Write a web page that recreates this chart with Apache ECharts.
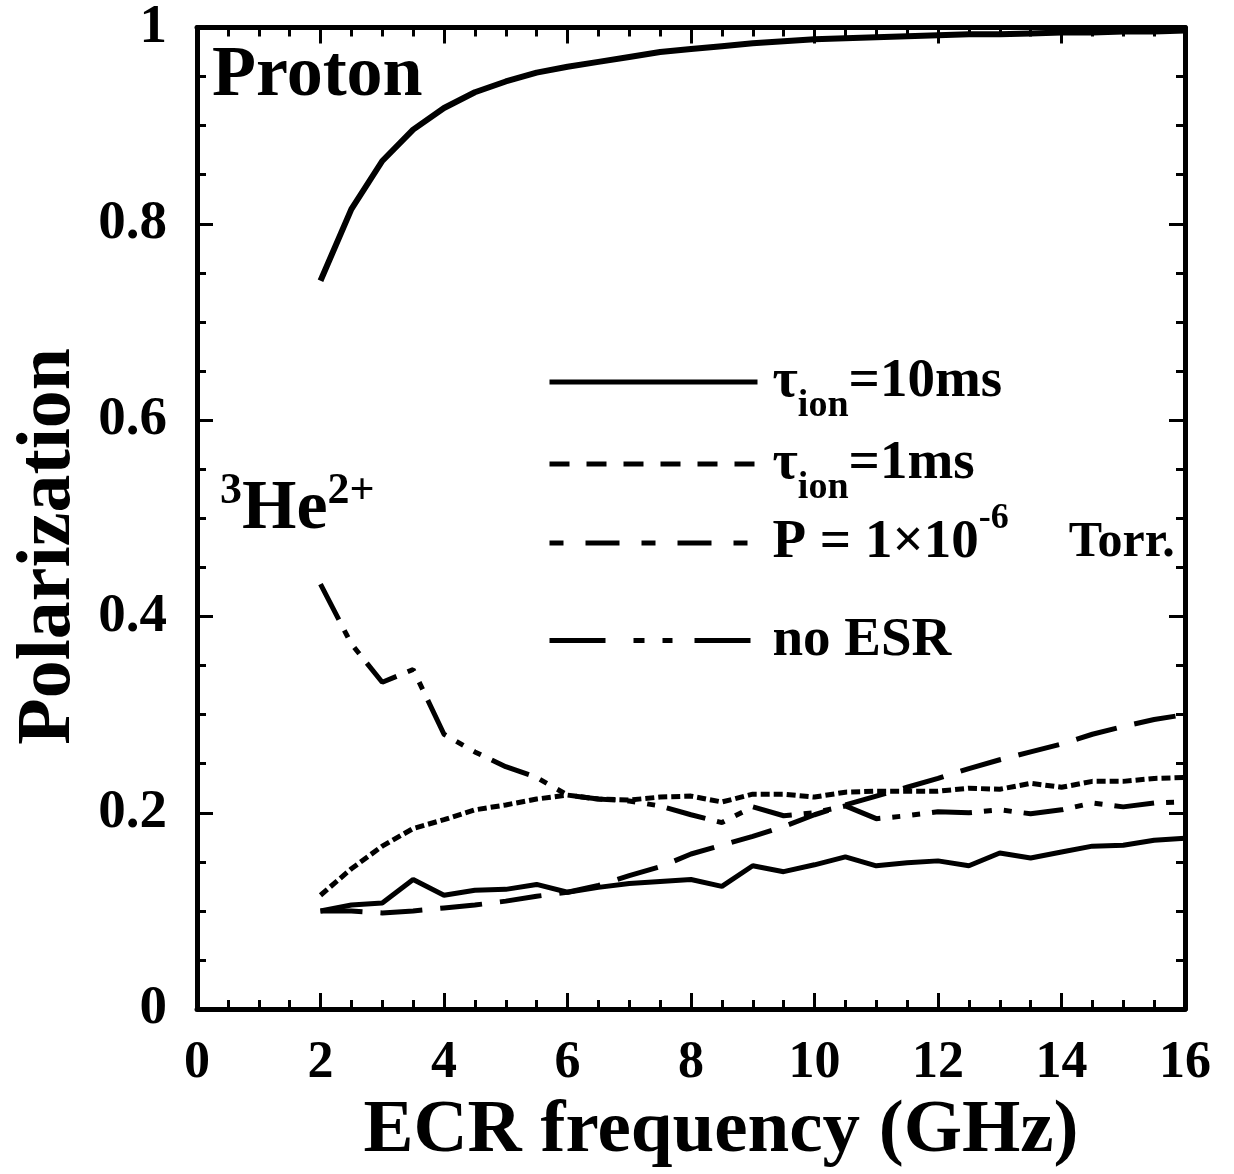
<!DOCTYPE html>
<html>
<head>
<meta charset="utf-8">
<script src="https://cdn.jsdelivr.net/npm/echarts@6/dist/echarts.min.js"></script>
<style>
  html, body { margin: 0; padding: 0; background: #fff; }
  #main { width: 1234px; height: 1174px; }
</style>
</head>
<body>
<div id="main"></div>
<script>
// ECR frequency in GHz, one point every 0.5 GHz
var freqGHz = [2, 2.5, 3, 3.5, 4, 4.5, 5, 5.5, 6, 6.5, 7, 7.5, 8, 8.5, 9, 9.5,
               10, 10.5, 11, 11.5, 12, 12.5, 13, 13.5, 14, 14.5, 15, 15.5, 16];

// proton, tau_ion = 10 ms
var protonPol = [0.742, 0.815, 0.864, 0.896, 0.918, 0.934, 0.945, 0.954, 0.960, 0.965,
                 0.970, 0.975, 0.978, 0.981, 0.984, 0.986, 0.988, 0.989, 0.990, 0.991,
                 0.992, 0.993, 0.993, 0.994, 0.995, 0.995, 0.996, 0.996, 0.997];

// 3He2+ curves
var heTau10 = [0.100, 0.106, 0.108, 0.132, 0.116, 0.121, 0.122, 0.127, 0.119, 0.124,
               0.128, 0.130, 0.132, 0.125, 0.146, 0.140, 0.147, 0.155, 0.146, 0.149,
               0.151, 0.146, 0.159, 0.154, 0.160, 0.166, 0.167, 0.172, 0.174];
var heTau1 = [0.116, 0.143, 0.166, 0.184, 0.193, 0.203, 0.208, 0.214, 0.218, 0.214,
              0.213, 0.216, 0.217, 0.211, 0.219, 0.219, 0.216, 0.221, 0.222, 0.222,
              0.222, 0.225, 0.224, 0.230, 0.226, 0.232, 0.232, 0.235, 0.236];
var heP = [0.100, 0.100, 0.098, 0.100, 0.103, 0.106, 0.110, 0.115, 0.119, 0.126,
           0.136, 0.145, 0.158, 0.167, 0.176, 0.186, 0.198, 0.208, 0.217, 0.226,
           0.235, 0.245, 0.254, 0.262, 0.270, 0.280, 0.288, 0.295, 0.300];
var heNoEsr = [0.433, 0.372, 0.333, 0.346, 0.280, 0.262, 0.247, 0.236, 0.218, 0.214,
               0.212, 0.207, 0.198, 0.190, 0.206, 0.197, 0.200, 0.207, 0.194, 0.197,
               0.201, 0.200, 0.203, 0.199, 0.203, 0.210, 0.206, 0.210, 0.211];

function pairs(ys) {
  var out = [];
  for (var i = 0; i < freqGHz.length; i++) out.push([freqGHz[i], ys[i]]);
  return out;
}

var FONT = '"Liberation Serif", "Times New Roman", serif';
var richText = {
  m: { fontSize: 55, fontWeight: 'bold', fontFamily: FONT, color: '#000', lineHeight: 60 },
  s: { fontSize: 50, fontWeight: 'bold', fontFamily: FONT, color: '#000', lineHeight: 60 },
  sub: { fontSize: 38, fontWeight: 'bold', fontFamily: FONT, color: '#000', lineHeight: 40, padding: [48, 0, 0, 0] },
  sup: { fontSize: 36, fontWeight: 'bold', fontFamily: FONT, color: '#000', lineHeight: 40, padding: [0, 0, 48, 0] },
  gap: { width: 10 },
  wide: { width: 60 }
};

function legendText(name) {
  if (name === 'tau10') return '{gap|}{m|τ}{sub|ion}{m|=10ms}';
  if (name === 'tau1') return '{gap|}{m|τ}{sub|ion}{m|=1ms}';
  if (name === 'pres') return '{gap|}{m|P = 1×10}{sup|-6}{wide|}{s|Torr.}';
  return '{gap|}{m|no ESR}';
}

function makeLegend(name, top, dash) {
  return {
    data: [name],
    left: 547,
    top: top,
    itemWidth: 208,
    itemHeight: 12,
    padding: 0,
    selectedMode: false,
    formatter: legendText,
    itemStyle: { opacity: 0 },
    lineStyle: { width: 5, type: dash, color: '#000' },
    textStyle: { rich: richText }
  };
}

function lineSeries(name, ys, dash, width) {
  return {
    name: name,
    type: 'line',
    data: pairs(ys),
    showSymbol: false,
    symbol: 'none',
    lineStyle: { color: '#000', width: width, type: dash },
    itemStyle: { color: '#000' },
    emphasis: { disabled: true },
    z: 3
  };
}

var chart = echarts.init(document.getElementById('main'));

var tickLabel = { fontFamily: FONT, fontWeight: 'bold', color: '#000' };

var option = {
  backgroundColor: '#fff',
  animation: false,
  grid: { left: 197, right: 49, top: 22, bottom: 162, containLabel: false },
  legend: [
    makeLegend('tau10', 339, 'solid'),
    makeLegend('tau1', 421, [20, 17]),
    makeLegend('pres', 501, [14, 22, 34, 22]),
    makeLegend('noesr', 613, [56, 28, 11, 18, 10, 22])
  ],
  xAxis: [
    {
      type: 'value', min: 0, max: 16, interval: 2, position: 'bottom',
      name: 'ECR frequency (GHz)', nameLocation: 'middle', nameGap: 70,
      nameTextStyle: { fontFamily: FONT, fontWeight: 'bold', fontSize: 75, color: '#000', padding: [0, 0, 0, 60] },
      axisLine: { show: true, onZero: false, lineStyle: { color: '#000', width: 5 } },
      axisTick: { inside: true, length: 16, lineStyle: { color: '#000', width: 3 } },
      minorTick: { show: true, splitNumber: 4, length: 9, lineStyle: { color: '#000', width: 3 } },
      splitLine: { show: false },
      axisLabel: Object.assign({ fontSize: 52, margin: 28 }, tickLabel)
    },
    {
      type: 'value', min: 0, max: 16, interval: 2, position: 'top',
      axisLine: { show: true, onZero: false, lineStyle: { color: '#000', width: 5 } },
      axisTick: { inside: true, length: 16, lineStyle: { color: '#000', width: 3 } },
      minorTick: { show: true, splitNumber: 4, length: 9, lineStyle: { color: '#000', width: 3 } },
      splitLine: { show: false },
      axisLabel: { show: false }
    }
  ],
  yAxis: [
    {
      type: 'value', min: 0, max: 1, interval: 0.2, position: 'left',
      name: 'Polarization', nameLocation: 'middle', nameGap: 108,
      nameTextStyle: { fontFamily: FONT, fontWeight: 'bold', fontSize: 76, color: '#000', padding: [0, 56, 0, 0] },
      axisLine: { show: true, onZero: false, lineStyle: { color: '#000', width: 5 } },
      axisTick: { inside: true, length: 16, lineStyle: { color: '#000', width: 3 } },
      minorTick: { show: true, splitNumber: 4, length: 9, lineStyle: { color: '#000', width: 3 } },
      splitLine: { show: false },
      axisLabel: Object.assign({ fontSize: 55, margin: 30 }, tickLabel)
    },
    {
      type: 'value', min: 0, max: 1, interval: 0.2, position: 'right',
      axisLine: { show: true, onZero: false, lineStyle: { color: '#000', width: 5 } },
      axisTick: { inside: true, length: 16, lineStyle: { color: '#000', width: 3 } },
      minorTick: { show: true, splitNumber: 4, length: 9, lineStyle: { color: '#000', width: 3 } },
      splitLine: { show: false },
      axisLabel: { show: false }
    }
  ],
  graphic: [
    {
      type: 'text', left: 212, top: 40, z: 10,
      style: { text: 'Proton', font: 'bold 72px ' + FONT, fill: '#000' }
    },
    {
      type: 'text', left: 220, top: 470, z: 10,
      style: {
        text: '{sup|3}{he|He}{sup|2+}',
        rich: {
          he: { fontSize: 70, fontWeight: 'bold', fontFamily: FONT, fill: '#000', color: '#000', lineHeight: 80 },
          sup: { fontSize: 44, fontWeight: 'bold', fontFamily: FONT, fill: '#000', color: '#000', lineHeight: 44, padding: [0, 0, 36, 0] }
        }
      }
    }
  ],
  series: [
    lineSeries('proton', protonPol, 'solid', 6),
    lineSeries('tau10', heTau10, 'solid', 5),
    lineSeries('tau1', heTau1, [9, 4], 5),
    lineSeries('pres', heP, [42, 18], 5),
    lineSeries('noesr', heNoEsr, [40, 12, 8, 12, 8, 12], 5)
  ]
};

chart.setOption(option);
</script>
</body>
</html>
